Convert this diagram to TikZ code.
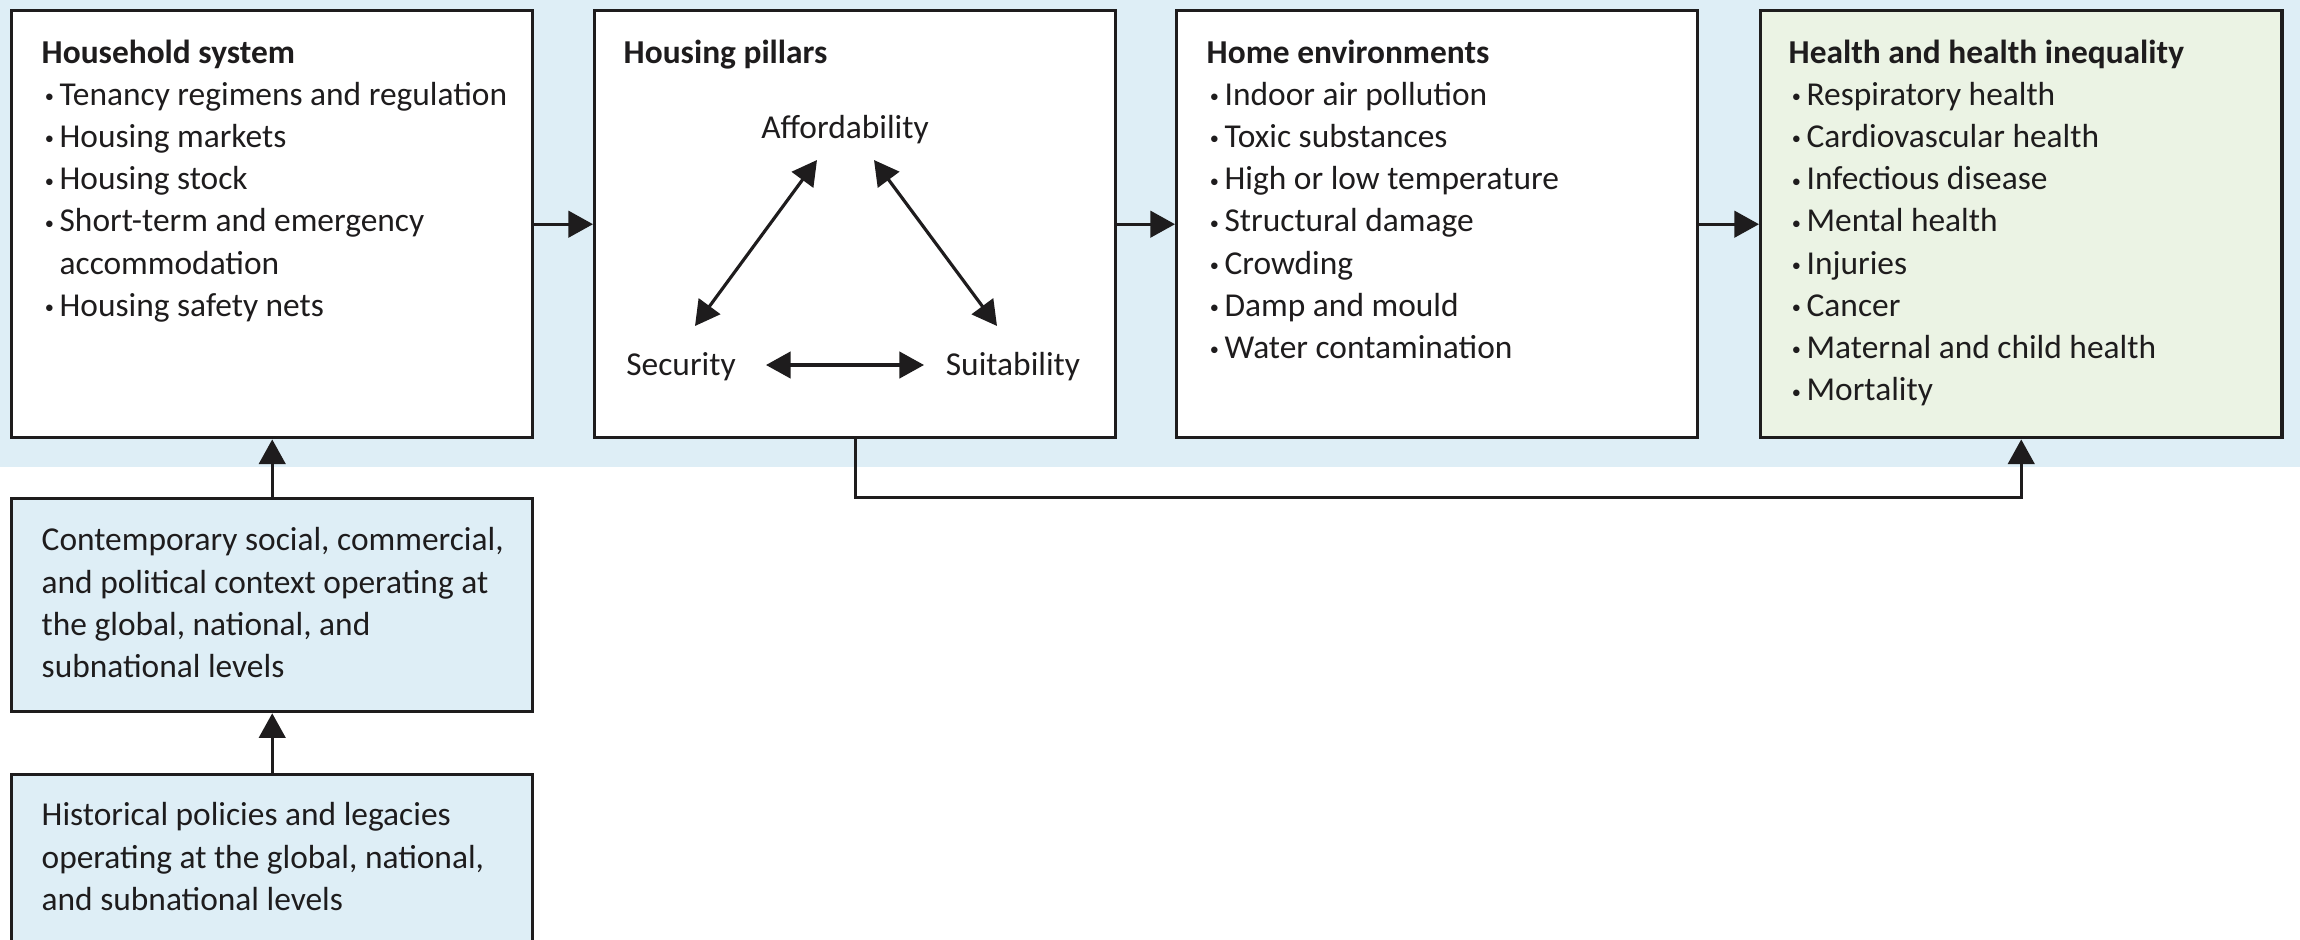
\documentclass[tikz,border=0pt]{standalone}
\usepackage{fontspec}
\usepackage{graphicx}
\setmainfont{Carlito}
\usetikzlibrary{arrows.meta,calc}
\definecolor{bandblue}{RGB}{222,238,246}
\definecolor{healthgreen}{RGB}{235,243,228}
\definecolor{ink}{RGB}{30,28,29}
\newcommand{\bitem}{\makebox[5.1pt][l]{\hspace{0.9pt}\raisebox{0.75pt}{\scalebox{0.55}{\textbullet}}}}
\newcommand{\bindent}{\hspace*{5.1pt}}
\begin{document}
\begin{tikzpicture}[x=0.01cm,y=-0.01cm,
  box/.style={draw=ink, line width=0.9pt, inner sep=0pt, anchor=north west,
    minimum width=5.21cm, minimum height=4.27cm},
  txt/.style={anchor=north west, inner sep=0pt, align=left, text=ink,
    font=\fontsize{9.5}{12}\selectfont},
  lbl/.style={anchor=base, inner sep=0pt, text=ink, font=\fontsize{9.5}{12}\selectfont},
  arr/.style={draw=ink, line width=0.9pt, -{Triangle[length=7pt,width=7.5pt]}},
  dbl/.style={draw=ink, line width=0.9pt,
    {Triangle[length=7pt,width=7.5pt]}-{Triangle[length=7pt,width=7.5pt]}}]
\useasboundingbox (0,0) rectangle (2300,939);
\clip (0,0) rectangle (2300,939);
\fill[white] (0,0) rectangle (2300,939);
% blue band
\fill[bandblue] (0,0) rectangle (2300,467);

% main boxes
\node[box, fill=white] (hs) at (10,9) {};
\node[box, fill=white] (pil) at (593,9) {};
\node[box, fill=white] (env) at (1175,9) {};
\node[box, fill=healthgreen] (hh) at (1759,9) {};
\node[box, fill=bandblue, minimum height=2.13cm] (ctx) at (10,497) {};
\node[box, fill=bandblue, minimum height=3cm] (hist) at (10,773) {};

% texts
\node[txt] (hst) at (41,39) {\textbf{Household system}\\
  \bitem Tenancy regimens and regulation\\
  \bitem Housing markets\\
  \bitem Housing stock\\
  \bitem Short-term and emergency\\
  \bindent accommodation\\
  \bitem Housing safety nets};
\node[txt] (pilt) at (623,39) {\textbf{Housing pillars}};
\node[txt] (envt) at (1206,39) {\textbf{Home environments}\\
  \bitem Indoor air pollution\\
  \bitem Toxic substances\\
  \bitem High or low temperature\\
  \bitem Structural damage\\
  \bitem Crowding\\
  \bitem Damp and mould\\
  \bitem Water contamination};
\node[txt] (hht) at (1788,39) {\textbf{Health and health inequality}\\
  \bitem Respiratory health\\
  \bitem Cardiovascular health\\
  \bitem Infectious disease\\
  \bitem Mental health\\
  \bitem Injuries\\
  \bitem Cancer\\
  \bitem Maternal and child health\\
  \bitem Mortality};
\node[txt] (ctxt) at (41,527) {Contemporary social, commercial,\\
  and political context operating at\\
  the global, national, and\\
  subnational levels};
\node[txt] (histt) at (41,802) {Historical policies and legacies\\
  operating at the global, national,\\
  and subnational levels};

% pillars
\node[lbl] (aff) at (845,138) {Affordability};
\node[lbl] (sec) at (681,375) {Security};
\node[lbl] (suit) at (1013,375) {Suitability};
\draw[dbl] ([shift={(14,-49)}]sec.base) -- ([shift={(-28,22)}]aff.base);
\draw[dbl] ([shift={(29,22)}]aff.base) -- ([shift={(-16,-49)}]suit.base);
\draw[dbl] ([shift={(85,-10)}]sec.base) -- ([shift={(-89,-10)}]suit.base);

% connectors
\draw[arr] (hs.east) -- (pil.west);
\draw[arr] (pil.east) -- (env.west);
\draw[arr] (env.east) -- (hh.west);
\draw[arr] (ctx.north) -- (hs.south);
\draw[arr] (hist.north) -- (ctx.south);
\draw[arr] (pil.south) -- ([shift={(0,58)}]pil.south) -| (hh.south);
\end{tikzpicture}
\end{document}
